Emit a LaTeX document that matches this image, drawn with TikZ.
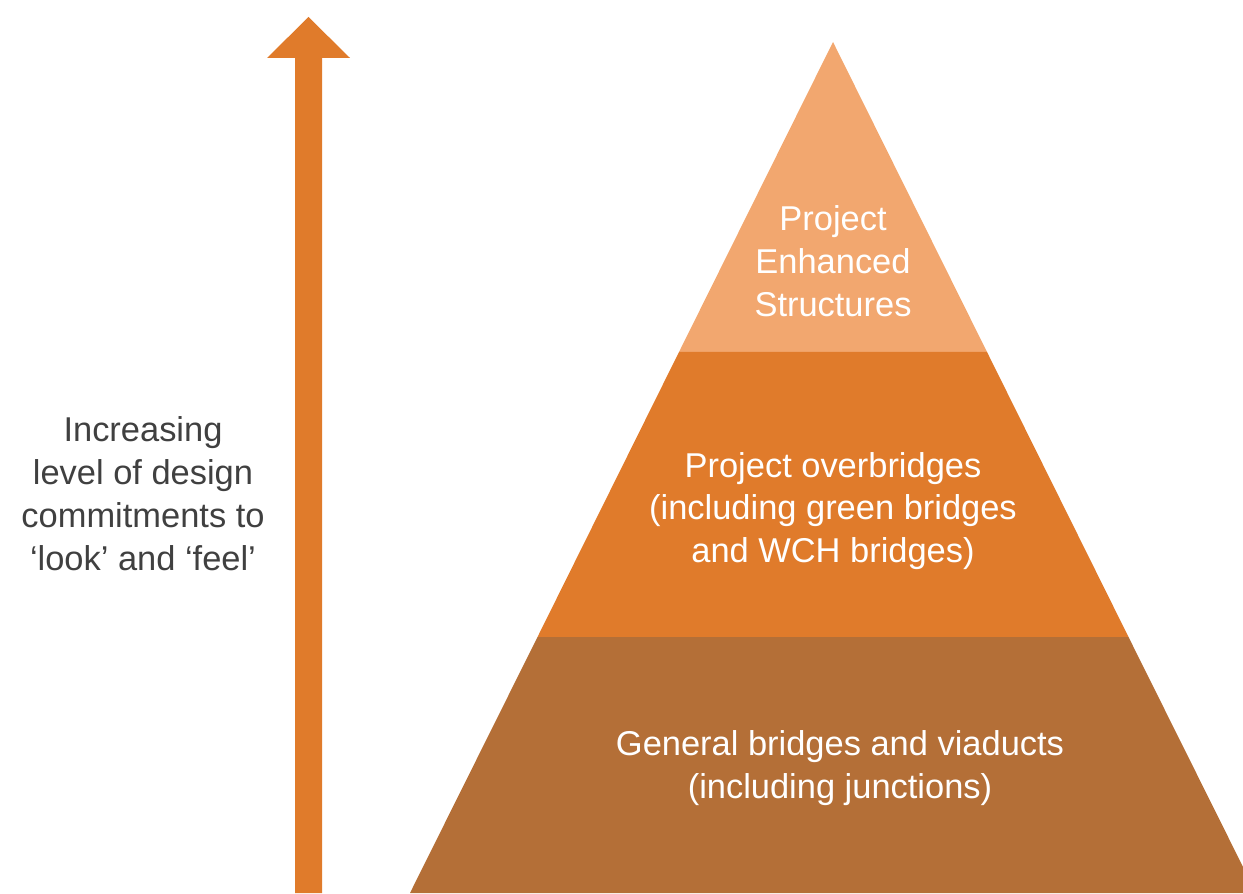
\documentclass[tikz,border=0pt]{standalone}
\usepackage{fontspec}
\setmainfont{Liberation Sans}
\definecolor{tiertop}{HTML}{F2A76F}
\definecolor{tiermid}{HTML}{E07B2B}
\definecolor{tierbase}{HTML}{B46F37}
\definecolor{txtgray}{HTML}{404040}
\tikzset{
  lbl/.style={align=center,font=\fontsize{19.6}{24.4}\selectfont,inner sep=0pt},
  tierlbl/.style={lbl,text=white}
}
\begin{document}
\begin{tikzpicture}[line join=round]
  \useasboundingbox (0,0) rectangle (24.86,17.86);
  \clip (0,0) rectangle (24.86,17.86);
  % pyramid tiers
  \fill[tiertop] (16.66,17.02)--(19.74,10.82)--(13.58,10.82)--cycle;
  \fill[tiermid] (13.58,10.82)--(19.74,10.82)--(22.57,5.12)--(10.75,5.12)--cycle;
  \fill[tierbase] (10.75,5.12)--(22.57,5.12)--(25.12,0)--(8.2,0)--cycle;
  % arrow
  \fill[tiermid] (5.90,0)--(5.90,16.70)--(5.34,16.70)--(6.17,17.52)--(7.00,16.70)--(6.44,16.70)--(6.44,0)--cycle;
  % labels
  \node[lbl,text=txtgray] (side) at (2.86,7.98) {Increasing\\level of design\\commitments to\\‘look’ and ‘feel’};
  \node[tierlbl] (top) at (16.66,12.63) {Project\\Enhanced\\Structures};
  \node[tierlbl] (mid) at (16.66,7.64) {Project overbridges\\(including green bridges\\and WCH bridges)};
  \node[tierlbl] (base) at (16.80,2.50) {General bridges and viaducts\\(including junctions)};
\end{tikzpicture}
\end{document}
